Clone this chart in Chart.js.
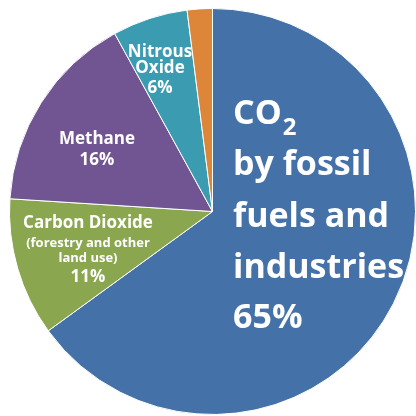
<!DOCTYPE html>
<html>
<head>
<meta charset="utf-8">
<script src="https://cdn.jsdelivr.net/npm/chart.js@4/dist/chart.umd.min.js"></script>
<style>
  html, body { margin: 0; padding: 0; background: #ffffff; }
  #contenedor { width: 416px; height: 416px; }
</style>
</head>
<body>
<div id="contenedor">
  <canvas id="graficoTorta" width="416" height="416"></canvas>
</div>
<script>
// shares of greenhouse gas emissions, clockwise from 12 o'clock
const categorias = [
  'CO2 by fossil fuels and industries',
  'Carbon Dioxide (forestry and other land use)',
  'Methane',
  'Nitrous Oxide',
  'F-gases'
];
const porcentajes = [65, 11, 16, 6, 2];
const colores = ['#4472A8', '#8AA64F', '#705592', '#3B9BB0', '#DD8538'];

// text printed inside the slices (null = no label)
const etiquetas = [
  ['CO', 'by fossil', 'fuels and', 'industries', porcentajes[0] + '%'],
  ['Carbon Dioxide', '(forestry and other', 'land use)', porcentajes[1] + '%'],
  ['Methane', porcentajes[2] + '%'],
  ['Nitrous', 'Oxide', porcentajes[3] + '%'],
  null
];

const fuente = '"Open Sans", "DejaVu Sans", sans-serif';

// where each label goes, in px from the pie centre
const ubicaciones = [
  { x: 20.5, align: 'left', lineas: [[-87.5, 34], [-36.5, 34], [15.5, 34], [66.5, 34], [116.5, 34]] },
  { x: -124.5, align: 'center', lineas: [[16.5, 17], [35.5, 13], [50.5, 13], [70.5, 17]] },
  { x: -115.5, align: 'center', lineas: [[-67.5, 17], [-46.5, 17]] },
  { x: -52.5, align: 'center', lineas: [[-154.5, 17], [-138.5, 17], [-118.5, 17]] },
  null
];

const textoPorciones = {
  id: 'textoPorciones',
  afterDatasetsDraw(chart) {
    const arco = chart.getDatasetMeta(0).data[0];
    const cx = arco.x;
    const cy = arco.y;
    const ctx = chart.ctx;
    ctx.save();
    ctx.fillStyle = '#ffffff';
    ctx.textBaseline = 'alphabetic';
    etiquetas.forEach((lineas, i) => {
      if (!lineas) return;
      const u = ubicaciones[i];
      ctx.textAlign = u.align;
      lineas.forEach((texto, j) => {
        const [dy, tam] = u.lineas[j];
        ctx.font = 'bold ' + tam + 'px ' + fuente;
        ctx.fillText(texto, cx + u.x, cy + dy);
        // subscript 2 after "CO"
        if (i === 0 && j === 0) {
          const ancho = ctx.measureText(texto).width;
          ctx.font = 'bold 24px ' + fuente;
          ctx.textAlign = 'left';
          ctx.fillText('2', cx + u.x + ancho + 1, cy + dy + 11);
          ctx.textAlign = u.align;
        }
      });
    });
    ctx.restore();
  }
};

const ctx = document.getElementById('graficoTorta');
new Chart(ctx, {
  type: 'pie',
  data: {
    labels: categorias,
    datasets: [
      {
        data: porcentajes,
        backgroundColor: colores,
        borderColor: '#ffffff',
        borderWidth: 1,
      },
    ],
  },
  options: {
    responsive: false,
    animation: false,
    layout: {
      padding: { left: 9, top: 8, right: 0, bottom: 1 },
    },
    plugins: {
      legend: { display: false },
      tooltip: { enabled: false },
    },
  },
  plugins: [textoPorciones],
});
</script>
</body>
</html>
